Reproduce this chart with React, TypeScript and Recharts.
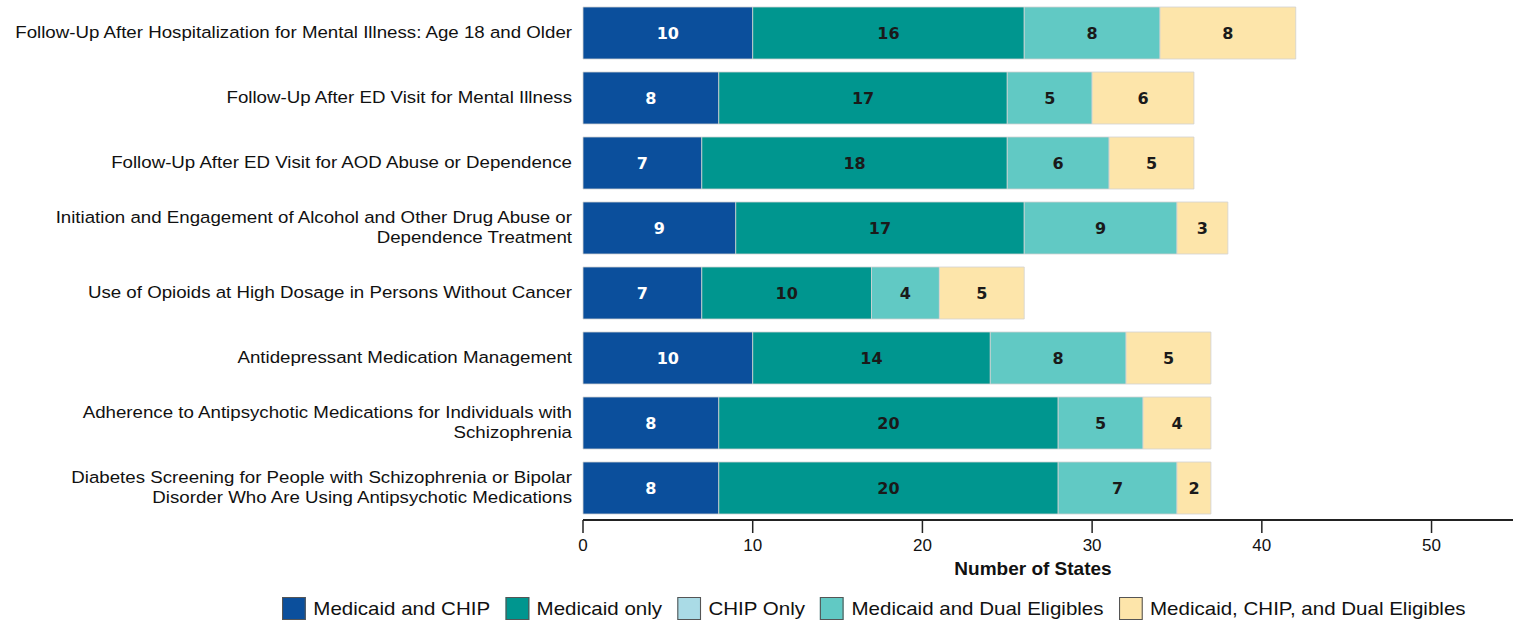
import { Bar, BarChart, LabelList, XAxis, YAxis } from "recharts";

const MEASURES = [
  "Follow-Up After Hospitalization for Mental Illness: Age 18 and Older",
  "Follow-Up After ED Visit for Mental Illness",
  "Follow-Up After ED Visit for AOD Abuse or Dependence",
  "Initiation and Engagement of Alcohol and Other Drug Abuse or\nDependence Treatment",
  "Use of Opioids at High Dosage in Persons Without Cancer",
  "Antidepressant Medication Management",
  "Adherence to Antipsychotic Medications for Individuals with\nSchizophrenia",
  "Diabetes Screening for People with Schizophrenia or Bipolar\nDisorder Who Are Using Antipsychotic Medications",
];

const MEDICAID_CHIP = [10, 8, 7, 9, 7, 10, 8, 8];
const MEDICAID_ONLY = [16, 17, 18, 17, 10, 14, 20, 20];
const CHIP_ONLY = [0, 0, 0, 0, 0, 0, 0, 0];
const MEDICAID_DUAL = [8, 5, 6, 9, 4, 8, 5, 7];
const ALL_THREE = [8, 6, 5, 3, 5, 5, 4, 2];

const X_TICKS = [0, 10, 20, 30, 40, 50];

const SERIES = [
  { key: "mc", name: "Medicaid and CHIP", color: "#0b4f9c", text: "#ffffff" },
  { key: "mo", name: "Medicaid only", color: "#00968f", text: "#1a1a1a" },
  { key: "co", name: "CHIP Only", color: "#aadbe6", text: "#1a1a1a" },
  { key: "md", name: "Medicaid and Dual Eligibles", color: "#61c9c4", text: "#1a1a1a" },
  { key: "all", name: "Medicaid, CHIP, and Dual Eligibles", color: "#fde5aa", text: "#1a1a1a" },
];

const data = MEASURES.map((measure, i) => ({
  measure,
  mc: MEDICAID_CHIP[i],
  mo: MEDICAID_ONLY[i],
  co: CHIP_ONLY[i],
  md: MEDICAID_DUAL[i],
  all: ALL_THREE[i],
}));

// the source text is a little wider than Liberation Sans, so stretch it
function MeasureTick(props: any) {
  const { x, y, payload } = props;
  const lines = String(payload.value).split("\n");
  const start = -((lines.length - 1) * 20) / 2;
  return (
    <g transform={`translate(${x - 3},${y}) scale(1.1,1)`}>
      <text
        x={0}
        y={start}
        textAnchor="end"
        dominantBaseline="central"
        fontSize={17}
        fill="#111"
      >
        {lines.map((line, i) => (
          <tspan key={i} x={0} dy={i === 0 ? 0 : 20}>
            {line}
          </tspan>
        ))}
      </text>
    </g>
  );
}

function valueLabel(fill: string) {
  return (props: any) => {
    const { x, y, width, height, value } = props;
    if (!value) return null;
    return (
      <text
        x={x + width / 2}
        y={y + height / 2}
        textAnchor="middle"
        dominantBaseline="central"
        fontFamily="DejaVu Sans"
        fontWeight="bold"
        fontSize={16}
        fill={fill}
      >
        {value}
      </text>
    );
  };
}

export default function App() {
  return (
    <div
      style={{
        position: "absolute",
        left: 0,
        top: 0,
        width: 1513,
        height: 620,
        fontFamily: "'Liberation Sans', Arial, sans-serif",
        background: "#fff",
        overflow: "hidden",
      }}
    >
      <BarChart
        width={1513}
        height={620}
        data={data}
        layout="vertical"
        barSize={52}
        margin={{ top: 0, right: 0, bottom: 40, left: 0 }}
      >
        <XAxis
          type="number"
          domain={[0, 54.8]}
          ticks={X_TICKS}
          height={60}
          tickSize={13}
          tickMargin={6}
          axisLine={{ stroke: "#222", strokeWidth: 2 }}
          tickLine={{ stroke: "#222", strokeWidth: 1.5 }}
          tick={{ fontSize: 17, fill: "#111" }}
          label={{
            value: "Number of States",
            position: "insideBottom",
            offset: 5,
            dx: -15,
            fontSize: 19,
            fontWeight: "bold",
            fill: "#111",
          }}
        />
        <YAxis
          type="category"
          dataKey="measure"
          width={583}
          axisLine={false}
          tickLine={false}
          interval={0}
          tick={<MeasureTick />}
        />
        {SERIES.map((s) => (
          <Bar
            key={s.key}
            dataKey={s.key}
            name={s.name}
            stackId="a"
            fill={s.color}
            stroke="#d2d2d2"
            strokeWidth={0.8}
            isAnimationActive={false}
          >
            <LabelList dataKey={s.key} content={valueLabel(s.text)} />
          </Bar>
        ))}
      </BarChart>
      <div
        style={{
          position: "absolute",
          left: 282,
          top: 597,
          display: "flex",
          alignItems: "center",
          fontSize: 19,
          color: "#111",
          whiteSpace: "nowrap",
          transform: "scaleX(1.08)",
          transformOrigin: "left center",
        }}
      >
        {SERIES.map((s) => (
          <div
            key={s.key}
            style={{ display: "flex", alignItems: "center", marginRight: 14 }}
          >
            <span
              style={{
                display: "inline-block",
                width: 20,
                height: 21,
                background: s.color,
                border: "1px solid #555",
                marginRight: 7,
              }}
            />
            <span>{s.name}</span>
          </div>
        ))}
      </div>
    </div>
  );
}
